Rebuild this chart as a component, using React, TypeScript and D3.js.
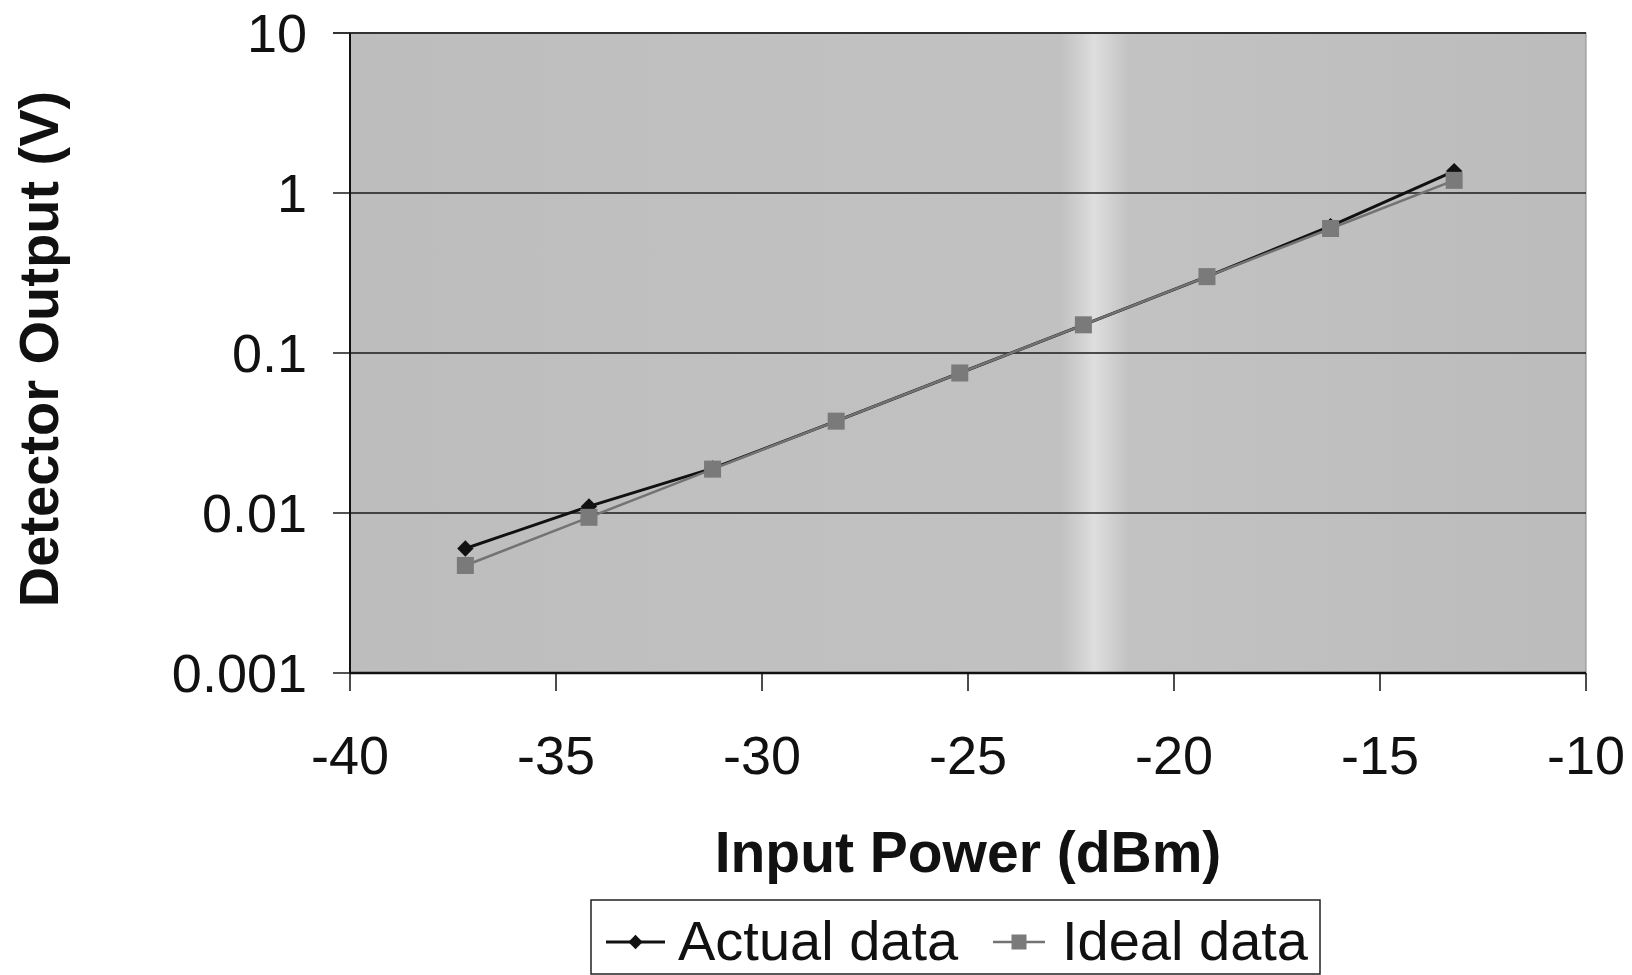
import React, { useEffect, useRef } from "react";
import * as d3 from "d3";

// input power (dBm) for each measurement
const inputPower = [-37.2, -34.2, -31.2, -28.2, -25.2, -22.2, -19.2, -16.2, -13.2];
// detector output (V)
const actualData = [0.006, 0.011, 0.019, 0.0375, 0.075, 0.15, 0.3, 0.62, 1.37];
const idealData = [0.0047, 0.0094, 0.0188, 0.0375, 0.075, 0.15, 0.3, 0.6, 1.2];

const xTicks = [-40, -35, -30, -25, -20, -15, -10];
const yTicks = [10, 1, 0.1, 0.01, 0.001];
const yTickLabels = ["10", "1", "0.1", "0.01", "0.001"];

const seriesNames = ["Actual data", "Ideal data"];

const FONT = '"Liberation Sans", Arial, Helvetica, sans-serif';

const App = () => {
  const svgRef = useRef<SVGSVGElement>(null);

  useEffect(() => {
    if (!svgRef.current) return;

    const width = 1632;
    const height = 975;
    const plot = { left: 350, right: 1586, top: 33, bottom: 673 };

    const svg = d3.select(svgRef.current).attr("width", width).attr("height", height);
    svg.selectAll("*").remove();

    const x = d3.scaleLinear().domain([-40, -10]).range([plot.left, plot.right]);
    const y = d3.scaleLog().domain([0.001, 10]).range([plot.bottom, plot.top]);

    // background gradient, lighter band where the scan is washed out
    const defs = svg.append("defs");
    const grad = defs
      .append("linearGradient")
      .attr("id", "bg")
      .attr("x1", 0)
      .attr("x2", 1)
      .attr("y1", 0)
      .attr("y2", 0);
    [
      [0, "#bdbdbd"],
      [0.3, "#c0c0c0"],
      [0.575, "#c1c1c1"],
      [0.592, "#d2d2d2"],
      [0.602, "#dedede"],
      [0.612, "#d4d4d4"],
      [0.63, "#c2c2c2"],
      [1, "#bcbcbc"],
    ].forEach(([o, c]) => grad.append("stop").attr("offset", o).attr("stop-color", c));

    svg
      .append("rect")
      .attr("x", plot.left)
      .attr("y", plot.top)
      .attr("width", plot.right - plot.left)
      .attr("height", plot.bottom - plot.top)
      .attr("fill", "url(#bg)")
      .attr("stroke", "#8a8a8a")
      .attr("stroke-width", 1);

    // gridlines + y ticks
    svg
      .append("g")
      .selectAll("line")
      .data(yTicks)
      .enter()
      .append("line")
      .attr("x1", plot.left - 17)
      .attr("x2", plot.right)
      .attr("y1", (d) => y(d))
      .attr("y2", (d) => y(d))
      .attr("stroke", (d) => (d === 10 ? "#333" : "#1a1a1a"))
      .attr("stroke-width", (d) => (d === 10 ? 2 : 1.3));

    // axes lines
    svg
      .append("line")
      .attr("x1", plot.left)
      .attr("x2", plot.left)
      .attr("y1", plot.top)
      .attr("y2", plot.bottom)
      .attr("stroke", "#111")
      .attr("stroke-width", 2);
    svg
      .append("line")
      .attr("x1", plot.left)
      .attr("x2", plot.right)
      .attr("y1", plot.bottom)
      .attr("y2", plot.bottom)
      .attr("stroke", "#111")
      .attr("stroke-width", 2.5);

    // x ticks
    svg
      .append("g")
      .selectAll("line")
      .data(xTicks)
      .enter()
      .append("line")
      .attr("x1", (d) => x(d))
      .attr("x2", (d) => x(d))
      .attr("y1", plot.bottom)
      .attr("y2", plot.bottom + 18)
      .attr("stroke", "#111")
      .attr("stroke-width", 1.5);

    // tick labels
    svg
      .append("g")
      .selectAll("text")
      .data(yTicks)
      .enter()
      .append("text")
      .attr("x", 307)
      .attr("y", (d) => y(d) + 19)
      .attr("text-anchor", "end")
      .style("font-family", FONT)
      .style("font-size", "54px")
      .attr("fill", "#111")
      .text((d, i) => yTickLabels[i]);

    svg
      .append("g")
      .selectAll("text")
      .data(xTicks)
      .enter()
      .append("text")
      .attr("x", (d) => x(d))
      .attr("y", 774)
      .attr("text-anchor", "middle")
      .style("font-family", FONT)
      .style("font-size", "54px")
      .attr("fill", "#111")
      .text((d) => `${d}`);

    // axis titles
    svg
      .append("text")
      .attr("x", (plot.left + plot.right) / 2)
      .attr("y", 872)
      .attr("text-anchor", "middle")
      .style("font-family", FONT)
      .style("font-weight", "bold")
      .style("font-size", "57px")
      .attr("fill", "#111")
      .text("Input Power (dBm)");

    svg
      .append("text")
      .attr("transform", "translate(58,349) rotate(-90)")
      .attr("text-anchor", "middle")
      .style("font-family", FONT)
      .style("font-weight", "bold")
      .style("font-size", "56px")
      .attr("fill", "#111")
      .text("Detector Output (V)");

    // series
    const actual = inputPower.map((p, i) => ({ p, v: actualData[i] }));
    const ideal = inputPower.map((p, i) => ({ p, v: idealData[i] }));

    const line = d3
      .line<{ p: number; v: number }>()
      .x((d) => x(d.p))
      .y((d) => y(d.v));

    svg
      .append("path")
      .datum(actual)
      .attr("fill", "none")
      .attr("stroke", "#111")
      .attr("stroke-width", 3)
      .attr("d", line);

    const diamond = d3.symbol().type(d3.symbolDiamond2).size(170);
    svg
      .append("g")
      .selectAll("path")
      .data(actual)
      .enter()
      .append("path")
      .attr("transform", (d) => `translate(${x(d.p)},${y(d.v)})`)
      .attr("d", diamond)
      .attr("fill", "#111");

    svg
      .append("path")
      .datum(ideal)
      .attr("fill", "none")
      .attr("stroke", "#737373")
      .attr("stroke-width", 2.5)
      .attr("d", line);

    svg
      .append("g")
      .selectAll("rect")
      .data(ideal)
      .enter()
      .append("rect")
      .attr("x", (d) => x(d.p) - 8.5)
      .attr("y", (d) => y(d.v) - 8.5)
      .attr("width", 17)
      .attr("height", 17)
      .attr("fill", "#7a7a7a");

    // legend
    const lg = svg.append("g");
    lg.append("rect")
      .attr("x", 591)
      .attr("y", 900)
      .attr("width", 729)
      .attr("height", 74)
      .attr("fill", "white")
      .attr("stroke", "#222")
      .attr("stroke-width", 1.5);

    const legendDiamond = d3.symbol().type(d3.symbolDiamond2).size(130);
    const legendItems = [
      { name: seriesNames[0], x0: 606, x1: 665, text: 678, color: "#111", w: 3 },
      { name: seriesNames[1], x0: 993, x1: 1045, text: 1062, color: "#737373", w: 2.5 },
    ];
    legendItems.forEach((it, i) => {
      lg.append("line")
        .attr("x1", it.x0)
        .attr("x2", it.x1)
        .attr("y1", 942)
        .attr("y2", 942)
        .attr("stroke", it.color)
        .attr("stroke-width", it.w);
      const cx = (it.x0 + it.x1) / 2;
      if (i === 0) {
        lg.append("path")
          .attr("transform", `translate(${cx},942)`)
          .attr("d", legendDiamond)
          .attr("fill", "#111");
      } else {
        lg.append("rect")
          .attr("x", cx - 7.5)
          .attr("y", 934.5)
          .attr("width", 15)
          .attr("height", 15)
          .attr("fill", "#7a7a7a");
      }
      lg.append("text")
        .attr("x", it.text)
        .attr("y", 960)
        .style("font-family", FONT)
        .style("font-size", "56px")
        .attr("fill", "#111")
        .text(it.name);
    });
  }, []);

  return (
    <div style={{ position: "absolute", left: 0, top: 0, background: "white" }}>
      <svg ref={svgRef} style={{ display: "block" }}></svg>
    </div>
  );
};

export default App;
